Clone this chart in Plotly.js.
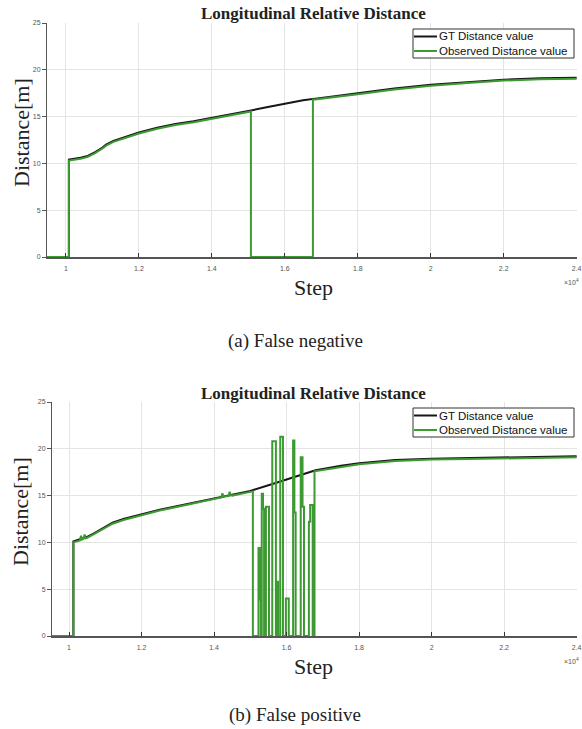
<!DOCTYPE html>
<html>
<head>
<meta charset="utf-8">
<script src="https://cdn.plot.ly/plotly-3.0.1.min.js"></script>
<style>html,body{margin:0;padding:0;background:#fff;}#chart{width:582px;height:729px;}</style>
</head>
<body>
<div id="chart"></div>
<script>
// ---------------- data ----------------
const xTickVals = [10000, 12000, 14000, 16000, 18000, 20000, 22000, 24000];
const xTickText = ['1', '1.2', '1.4', '1.6', '1.8', '2', '2.2', '2.4'];
const yTickVals = [0, 5, 10, 15, 20, 25];

// (a) False negative
const gtTopX = [9480, 10080, 10080, 10200, 10400, 10600, 10800, 11000, 11100, 11300, 11600, 12000, 12500, 13000, 13500, 14000, 14500, 15000, 15500, 16000, 16500, 17000, 18000, 19000, 20000, 21000, 22000, 23000, 24000];
const gtTopY = [0, 0, 10.4, 10.45, 10.6, 10.8, 11.2, 11.7, 12.0, 12.4, 12.8, 13.3, 13.8, 14.2, 14.5, 14.85, 15.2, 15.6, 16.0, 16.4, 16.75, 17.0, 17.5, 18.0, 18.4, 18.7, 18.95, 19.1, 19.15];
const obsTopX = [9480, 10080, 10080, 10200, 10400, 10600, 10800, 11000, 11100, 11300, 11600, 12000, 12500, 13000, 13500, 14000, 14500, 15000, 15070, 15070, 16770, 16770, 17000, 18000, 19000, 20000, 21000, 22000, 23000, 24000];
const obsTopY = [0, 0, 10.3, 10.35, 10.5, 10.7, 11.1, 11.6, 11.9, 12.3, 12.7, 13.2, 13.7, 14.1, 14.4, 14.75, 15.1, 15.5, 15.55, 0, 0, 16.8, 16.9, 17.4, 17.9, 18.3, 18.6, 18.85, 19.0, 19.05];

// (b) False positive
const gtBotX = [9530, 10120, 10120, 10300, 10500, 10700, 11000, 11200, 11500, 12000, 12500, 13000, 13500, 14000, 14500, 15000, 15500, 16000, 16500, 16800, 17000, 17500, 18000, 19000, 20000, 21000, 22000, 23000, 24000];
const gtBotY = [0, 0, 10.1, 10.3, 10.6, 11.0, 11.7, 12.1, 12.5, 13.0, 13.5, 13.9, 14.3, 14.7, 15.1, 15.5, 16.1, 16.7, 17.3, 17.7, 17.85, 18.2, 18.45, 18.8, 18.95, 19.0, 19.05, 19.1, 19.2];
const obsBotX = [9530, 10120, 10120, 10300, 10330, 10360, 10400, 10430, 10460, 10500, 10700, 11000, 11200, 11500, 12000, 12500, 13000, 13500, 14000, 14200, 14230, 14260, 14400, 14430, 14460, 14500, 15000, 15070, 15070,
  15225, 15225, 15265, 15265, 15290, 15290, 15315, 15315, 15350, 15350, 15380, 15380, 15430, 15430, 15515, 15515,
  15605, 15605, 15705, 15705, 15735, 15735, 15765, 15765, 15825, 15825, 15900, 15900, 15980, 15980, 16060, 16060,
  16180, 16180, 16215, 16215, 16250, 16250, 16390, 16390, 16440, 16440, 16480, 16480, 16615, 16615, 16650, 16650, 16720, 16720, 16770, 16770,
  17000, 17500, 18000, 19000, 20000, 21000, 22000, 23000, 24000];
const obsBotY = [0, 0, 10.0, 10.2, 10.7, 10.3, 10.4, 10.85, 10.45, 10.5, 10.9, 11.6, 12.0, 12.4, 12.9, 13.4, 13.8, 14.2, 14.6, 14.8, 15.25, 14.9, 14.95, 15.4, 15.05, 15.0, 15.4, 15.45, 0,
  0, 9.4, 9.4, 3.9, 3.9, 0, 0, 15.2, 15.2, 13.6, 13.6, 0, 0, 13.8, 13.8, 0,
  0, 20.8, 20.8, 0, 0, 5.8, 5.8, 0, 0, 21.3, 21.3, 0, 0, 4.0, 4.0, 0,
  0, 20.9, 20.9, 13.2, 13.2, 0, 0, 19.1, 19.1, 13.8, 13.8, 0, 0, 12.2, 12.2, 14.0, 14.0, 0, 0, 17.6,
  17.75, 18.1, 18.35, 18.7, 18.85, 18.9, 18.95, 19.0, 19.1];

const seriesNames = ['GT Distance value', 'Observed Distance value'];
const chartTitle = 'Longitudinal Relative Distance';
const captions = ['(a) False negative', '(b) False positive'];

// ---------------- style ----------------
const W = 582, H = 729;
const px = x => x / W;
const py = y => 1 - y / H;
const BLACK = '#161616', GREEN = '#3d9a33';
const SERIF = 'Liberation Serif, Times New Roman, serif';
const SANS = 'Liberation Sans, Arial, sans-serif';

function line(x, y, color, xa, ya, name) {
  return {type: 'scatter', mode: 'lines', x: x, y: y, name: name, xaxis: xa, yaxis: ya,
          line: {color: color, width: 2}, showlegend: false, hoverinfo: 'skip'};
}

const data = [
  line(gtTopX, gtTopY, BLACK, 'x', 'y', seriesNames[0]),
  line(obsTopX, obsTopY, GREEN, 'x', 'y', seriesNames[1]),
  line(gtBotX, gtBotY, BLACK, 'x2', 'y2', seriesNames[0]),
  line(obsBotX, obsBotY, GREEN, 'x2', 'y2', seriesNames[1])
];

function xAxis(dom, range, anchor) {
  return {domain: dom, range: range, anchor: anchor, tickvals: xTickVals, ticktext: xTickText,
    ticks: 'inside', ticklen: 4, tickcolor: '#333', tickwidth: 1,
    showline: true, linecolor: '#555', linewidth: 1.5,
    showgrid: true, gridcolor: '#e4e4e4', gridwidth: 1, zeroline: false,
    ticklabeloverflow: 'allow',
    tickfont: {family: SANS, size: 7, color: '#555'}, ticklabelstandoff: 4, fixedrange: true};
}
function yAxis(dom, anchor) {
  return {domain: dom, range: [0, 25], anchor: anchor, tickvals: yTickVals,
    ticks: 'outside', ticklen: 4, tickcolor: '#555', tickwidth: 1,
    showline: true, linecolor: '#555', linewidth: 1,
    showgrid: true, gridcolor: '#e4e4e4', gridwidth: 1, zeroline: false,
    tickfont: {family: SANS, size: 7, color: '#555'}, fixedrange: true};
}

const offsets = [0, 379];
const captionY = [341, 715];
const annotations = [];
const shapes = [];
offsets.forEach((o, i) => {
  annotations.push({xref: 'paper', yref: 'paper', x: px(313), y: py(14 + o), text: '<b>' + chartTitle + '</b>',
    showarrow: false, xanchor: 'center', yanchor: 'middle', font: {family: SERIF, size: 17, color: '#222'}});
  annotations.push({xref: 'paper', yref: 'paper', x: px(21), y: py(133 + o), text: 'Distance[m]', textangle: -90,
    showarrow: false, xanchor: 'center', yanchor: 'middle', font: {family: SERIF, size: 22, color: '#222'}});
  annotations.push({xref: 'paper', yref: 'paper', x: px(313), y: py(287 + o), text: 'Step',
    showarrow: false, xanchor: 'center', yanchor: 'middle', font: {family: SERIF, size: 22, color: '#222'}});
  annotations.push({xref: 'paper', yref: 'paper', x: px(295), y: py(captionY[i]), text: captions[i],
    showarrow: false, xanchor: 'center', yanchor: 'middle', font: {family: SERIF, size: 19, color: '#222'}});
  annotations.push({xref: 'paper', yref: 'paper', x: px(581), y: py(282 + o), text: '×10<sup>4</sup>',
    showarrow: false, xanchor: 'right', yanchor: 'middle', font: {family: SANS, size: 7, color: '#555'}});
  // legend
  shapes.push({type: 'rect', xref: 'paper', yref: 'paper', x0: px(413), x1: px(574), y0: py(29 + o), y1: py(58 + o),
    line: {color: '#333', width: 1}, fillcolor: '#fff', layer: 'above'});
  shapes.push({type: 'line', xref: 'paper', yref: 'paper', x0: px(414), x1: px(437), y0: py(36.5 + o), y1: py(36.5 + o),
    line: {color: BLACK, width: 2}, layer: 'above'});
  shapes.push({type: 'line', xref: 'paper', yref: 'paper', x0: px(414), x1: px(437), y0: py(51 + o), y1: py(51 + o),
    line: {color: GREEN, width: 2}, layer: 'above'});
  annotations.push({xref: 'paper', yref: 'paper', x: px(437), y: py(36.5 + o), text: seriesNames[0],
    showarrow: false, xanchor: 'left', yanchor: 'middle', font: {family: SANS, size: 11.5, color: '#111'}});
  annotations.push({xref: 'paper', yref: 'paper', x: px(437), y: py(51 + o), text: seriesNames[1],
    showarrow: false, xanchor: 'left', yanchor: 'middle', font: {family: SANS, size: 11.5, color: '#111'}});
});

const layout = {
  width: W, height: H, margin: {l: 0, r: 0, t: 0, b: 0},
  paper_bgcolor: '#fff', plot_bgcolor: '#fff', showlegend: false,
  xaxis: xAxis([px(47), px(577)], [9480, 24010], 'y'),
  yaxis: yAxis([py(257), py(23)], 'x'),
  xaxis2: xAxis([px(52), px(577)], [9530, 24010], 'y2'),
  yaxis2: yAxis([py(636), py(402)], 'x2'),
  annotations: annotations, shapes: shapes
};

Plotly.newPlot('chart', data, layout, {staticPlot: true, displayModeBar: false});
</script>
</body>
</html>
